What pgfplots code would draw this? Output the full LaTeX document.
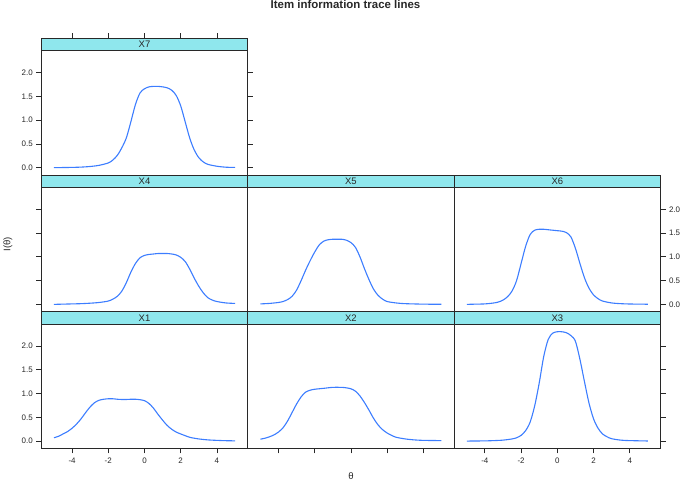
\documentclass[border=0pt]{standalone}
\usepackage{fontspec}
\setmainfont{Liberation Sans}
\usepackage{pgfplots}
\pgfplotsset{compat=1.18}
\definecolor{stripcyan}{RGB}{143,231,237}
\definecolor{curveblue}{RGB}{60,125,255}
\definecolor{bordcol}{RGB}{40,40,40}

\pgfplotsset{
  panel/.style={
    scale only axis, anchor=south west,
    width=206.4bp, height=124.4bp,
    xmin=-5.7, xmax=5.7, ymin=-0.154, ymax=2.463,
    xtick={-4,-2,0,2,4}, ytick={0,0.5,1,1.5,2},
    xticklabels={-4,-2,0,2,4}, yticklabels={0.0,0.5,1.0,1.5,2.0},
    tick align=outside, major tick length=5bp,
    tick style={line width=0.8bp, bordcol},
    axis line style={line width=0.8bp, bordcol},
    ticklabel style={font=\fontsize{8}{9}\selectfont, text=bordcol},
    xticklabel style={yshift=-1.5bp},
    clip=false,
  },
  strip/.style={
    scale only axis, anchor=south west,
    width=206.4bp, height=12.3bp,
    xmin=-5.7, xmax=5.7, ymin=0, ymax=1,
    xtick=\empty, ytick=\empty,
    axis background/.style={fill=stripcyan},
    axis line style={line width=0.8bp, bordcol},
    tick align=outside, major tick length=5bp,
    tick style={line width=0.8bp, bordcol},
  },
  curve/.style={curveblue, line width=1.1bp, smooth, no marks},
}
\newcommand{\striplabel}[1]{\node[font=\fontsize{9.5}{11}\selectfont, text=bordcol] at (rel axis cs:0.5,0.5) {#1};}

\begin{document}
\begin{tikzpicture}
\useasboundingbox (0bp,0bp) rectangle (681bp,481bp);

% ---------- X7 (col 1, top row) ----------
\begin{axis}[panel, at={(41.3bp,306.0bp)}, xtick=\empty, ytick pos=both, yticklabel pos=left]
\addplot[curve] coordinates {
(-5,0.0) (-4.5,0.003) (-4,0.006) (-3.5,0.012) (-3,0.025) (-2.5,0.05) (-2,0.10)
(-1.75,0.16) (-1.5,0.26) (-1.25,0.42) (-1,0.63) (-0.75,0.97) (-0.5,1.33) (-0.25,1.57)
(0,1.66) (0.25,1.70) (0.5,1.71) (0.75,1.71) (1,1.70) (1.25,1.68) (1.5,1.63)
(1.75,1.52) (2,1.30) (2.25,0.96) (2.5,0.62) (2.75,0.37) (3,0.21) (3.25,0.12)
(3.5,0.07) (4,0.03) (4.5,0.01) (5,0.005)};
\end{axis}
\begin{axis}[strip, at={(41.3bp,430.4bp)}, xtick={-4,-2,0,2,4}, xtick pos=right, xticklabels={}]
\striplabel{X7}
\end{axis}

% ---------- X4 (col 1, middle row) ----------
\begin{axis}[panel, at={(41.3bp,169.3bp)}, xtick=\empty, ytick pos=left, yticklabels={}]
\addplot[curve] coordinates {
(-5,0.0) (-4.5,0.005) (-4,0.01) (-3.5,0.015) (-3,0.025) (-2.5,0.04) (-2,0.07)
(-1.75,0.11) (-1.5,0.17) (-1.25,0.28) (-1,0.46) (-0.75,0.68) (-0.5,0.86) (-0.25,0.98)
(0,1.03) (0.25,1.05) (0.5,1.06) (0.75,1.07) (1,1.07) (1.25,1.07) (1.5,1.06)
(1.75,1.04) (2,0.99) (2.25,0.90) (2.5,0.74) (2.75,0.55) (3,0.38) (3.25,0.24)
(3.5,0.14) (3.75,0.09) (4,0.06) (4.5,0.03) (5,0.02)};
\end{axis}
\begin{axis}[strip, at={(41.3bp,293.7bp)}]
\striplabel{X4}
\end{axis}

% ---------- X5 (col 2, middle row) ----------
\begin{axis}[panel, at={(247.7bp,169.3bp)}, xtick=\empty, ytick=\empty]
\addplot[curve] coordinates {
(-5,0.01) (-4.5,0.02) (-4,0.04) (-3.75,0.06) (-3.5,0.10) (-3.25,0.17) (-3,0.30)
(-2.75,0.50) (-2.5,0.72) (-2.25,0.92) (-2,1.10) (-1.75,1.25) (-1.5,1.33) (-1.25,1.36)
(-1,1.37) (-0.75,1.37) (-0.5,1.37) (-0.25,1.35) (0,1.30) (0.25,1.20) (0.5,1.00)
(0.75,0.75) (1,0.52) (1.25,0.32) (1.5,0.19) (1.75,0.11) (2,0.06) (2.5,0.03)
(3,0.015) (4,0.005) (5,0.002)};
\end{axis}
\begin{axis}[strip, at={(247.7bp,293.7bp)}]
\striplabel{X5}
\end{axis}

% ---------- X6 (col 3, middle row) ----------
\begin{axis}[panel, at={(454.1bp,169.3bp)}, xtick=\empty, ytick pos=right, yticklabel pos=right]
\addplot[curve] coordinates {
(-5,0.0) (-4.5,0.005) (-4,0.01) (-3.5,0.03) (-3.25,0.05) (-3,0.09) (-2.75,0.16)
(-2.5,0.28) (-2.25,0.50) (-2,0.86) (-1.75,1.22) (-1.5,1.47) (-1.25,1.56) (-1,1.58)
(-0.75,1.58) (-0.5,1.57) (-0.25,1.56) (0,1.55) (0.25,1.54) (0.5,1.51) (0.75,1.42)
(1,1.18) (1.25,0.86) (1.5,0.56) (1.75,0.34) (2,0.20) (2.25,0.12) (2.5,0.07)
(3,0.03) (3.5,0.015) (4,0.008) (5,0.003)};
\end{axis}
\begin{axis}[strip, at={(454.1bp,293.7bp)}]
\striplabel{X6}
\end{axis}

% ---------- X1 (col 1, bottom row) ----------
\begin{axis}[panel, at={(41.3bp,32.6bp)}, xtick pos=left, ytick pos=left]
\addplot[curve] coordinates {
(-5,0.07) (-4.75,0.10) (-4.5,0.15) (-4.25,0.20) (-4,0.27) (-3.75,0.36) (-3.5,0.47)
(-3.25,0.60) (-3,0.72) (-2.75,0.81) (-2.5,0.86) (-2.25,0.88) (-2,0.89) (-1.75,0.89)
(-1.5,0.88) (-1.25,0.875) (-1,0.875) (-0.75,0.88) (-0.5,0.88) (-0.25,0.87) (0,0.85)
(0.25,0.79) (0.5,0.69) (0.75,0.56) (1,0.44) (1.25,0.33) (1.5,0.25) (1.75,0.19)
(2,0.15) (2.5,0.08) (3,0.045) (3.5,0.025) (4,0.015) (4.5,0.008) (5,0.005)};
\end{axis}
\begin{axis}[strip, at={(41.3bp,157.0bp)}]
\striplabel{X1}
\end{axis}

% ---------- X2 (col 2, bottom row) ----------
\begin{axis}[panel, at={(247.7bp,32.6bp)}, xtick pos=left, xticklabels={}, ytick=\empty]
\addplot[curve] coordinates {
(-5,0.04) (-4.75,0.06) (-4.5,0.09) (-4.25,0.13) (-4,0.19) (-3.75,0.28) (-3.5,0.42)
(-3.25,0.60) (-3,0.78) (-2.75,0.93) (-2.5,1.03) (-2.25,1.07) (-2,1.09) (-1.5,1.11)
(-1,1.13) (-0.5,1.13) (-0.25,1.12) (0,1.10) (0.25,1.05) (0.5,0.95) (0.75,0.81)
(1,0.65) (1.25,0.48) (1.5,0.34) (1.75,0.24) (2,0.17) (2.25,0.12) (2.5,0.08)
(3,0.045) (3.5,0.025) (4,0.015) (5,0.01)};
\end{axis}
\begin{axis}[strip, at={(247.7bp,157.0bp)}]
\striplabel{X2}
\end{axis}

% ---------- X3 (col 3, bottom row) ----------
\begin{axis}[panel, at={(454.1bp,32.6bp)}, xtick pos=left, ytick pos=right, yticklabels={}]
\addplot[curve] coordinates {
(-5,0.0) (-4.5,0.002) (-4,0.004) (-3.5,0.01) (-3,0.02) (-2.5,0.045) (-2.25,0.07)
(-2,0.12) (-1.75,0.22) (-1.5,0.40) (-1.25,0.74) (-1,1.22) (-0.75,1.78) (-0.5,2.14)
(-0.25,2.27) (0,2.30) (0.25,2.30) (0.5,2.28) (0.75,2.22) (1,2.10) (1.25,1.72)
(1.5,1.25) (1.75,0.80) (2,0.47) (2.25,0.27) (2.5,0.15) (2.75,0.09) (3,0.05)
(3.5,0.02) (4,0.01) (5,0.002)};
\end{axis}
\begin{axis}[strip, at={(454.1bp,157.0bp)}]
\striplabel{X3}
\end{axis}

% ---------- titles ----------
\node[anchor=base, font=\bfseries\fontsize{11.5}{13}\selectfont, text=bordcol] at (345.5bp,472.3bp) {Item information trace lines};
\node[font=\fontsize{9.6}{11}\selectfont, text=bordcol] at (351bp,4.5bp) {θ};
\node[rotate=90, font=\fontsize{9.6}{11}\selectfont, text=bordcol] at (8bp,237bp) {I(θ)};
\end{tikzpicture}
\end{document}
